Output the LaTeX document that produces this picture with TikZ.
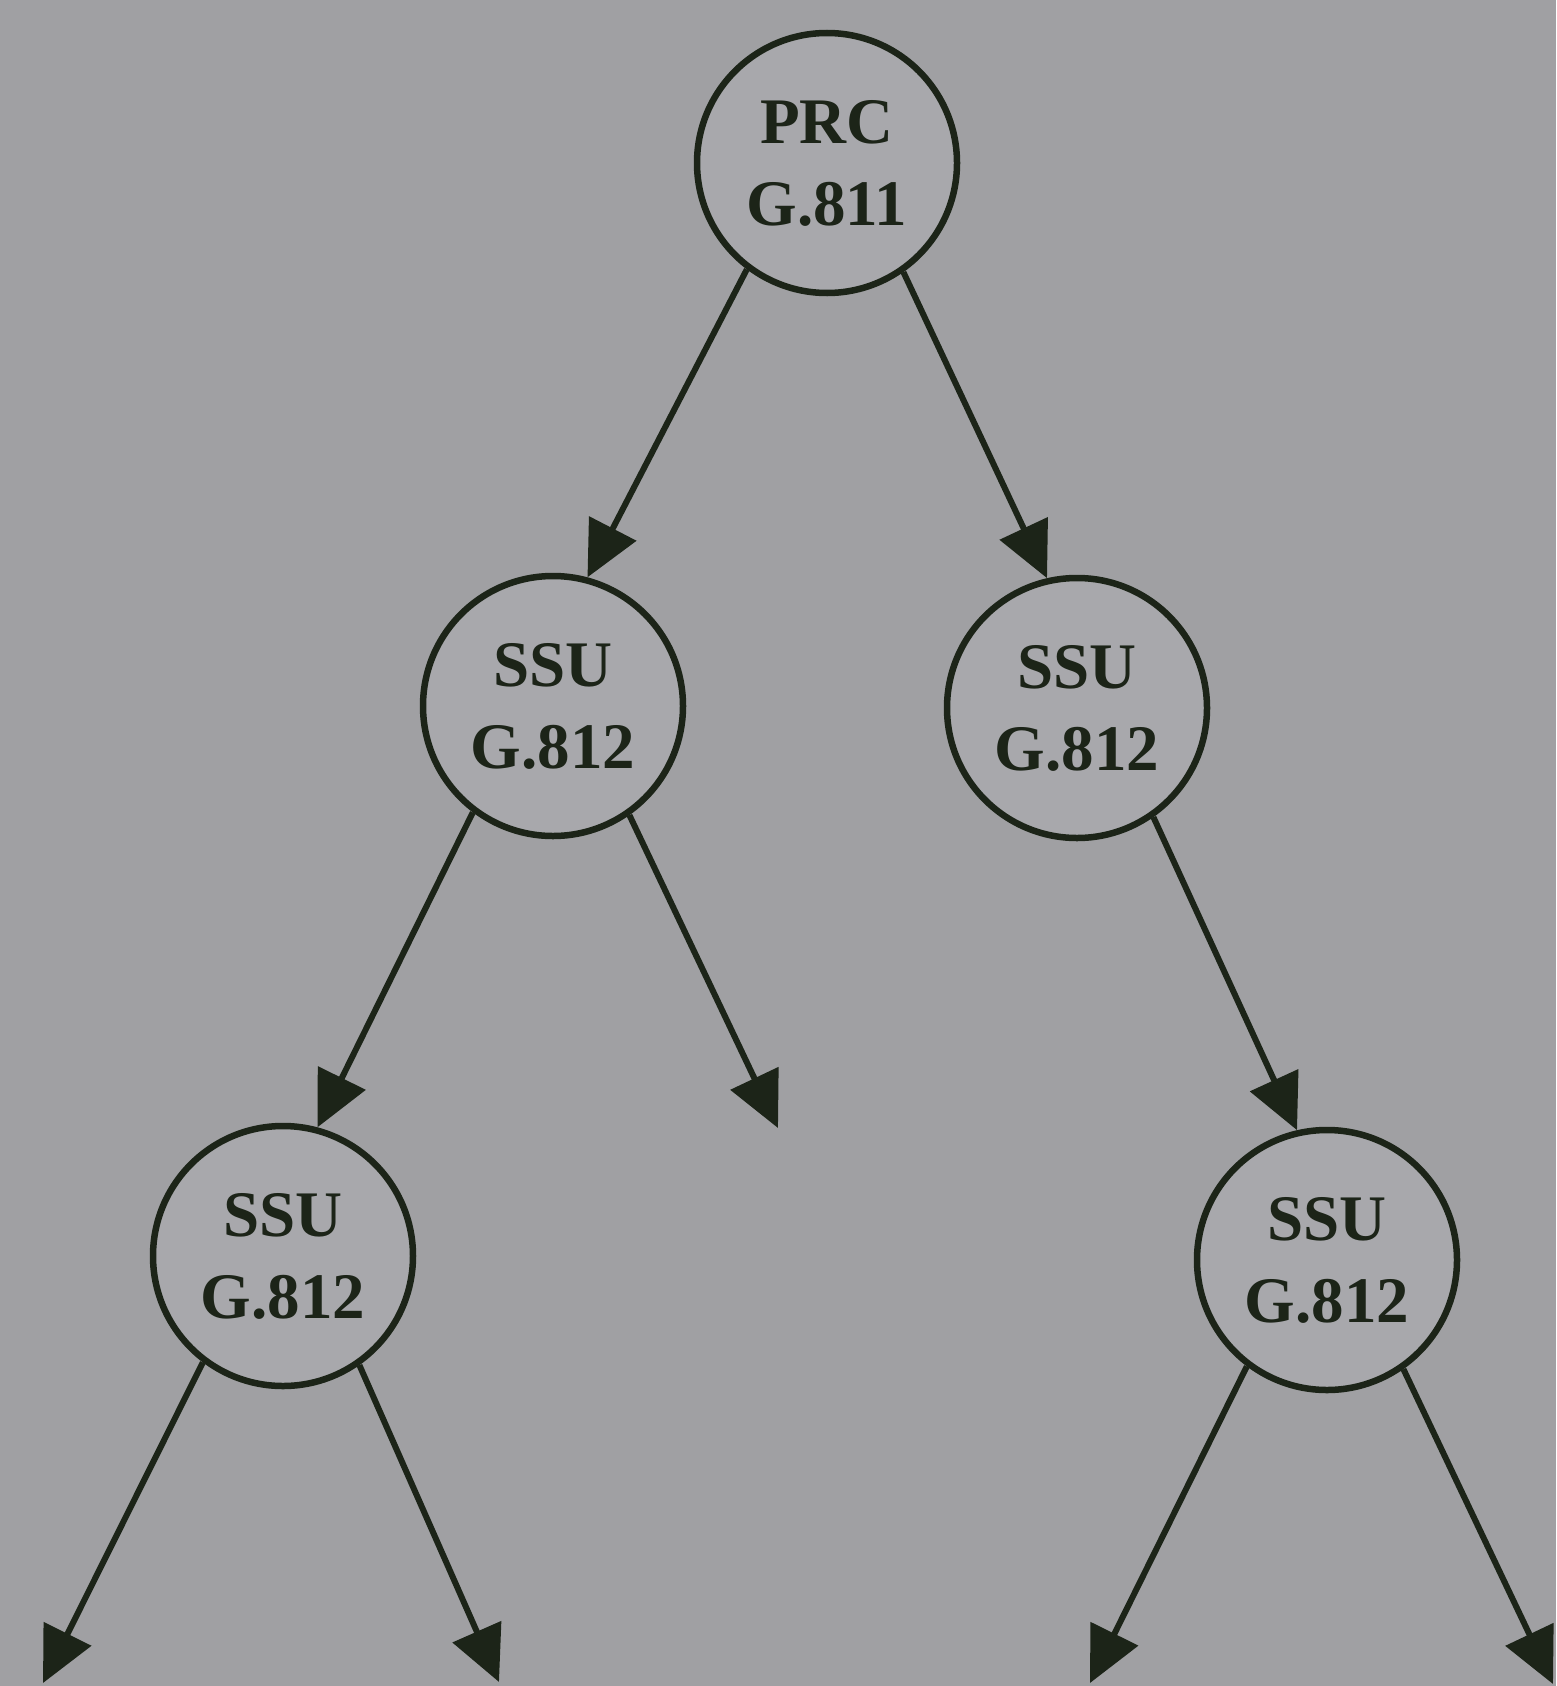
\documentclass[tikz,border=0pt]{standalone}
\usepackage{fontspec}
\setmainfont{Liberation Serif}
\usetikzlibrary{arrows.meta}
\definecolor{paper}{RGB}{160,160,163}
\definecolor{inner}{RGB}{168,168,172}
\definecolor{ink}{RGB}{28,36,24}
\tikzset{
  unit/.style={circle, draw=ink, fill=inner, line width=6.5pt, minimum size=260pt, inner sep=0pt,
    align=center, text=ink, font=\bfseries\fontsize{65}{82}\selectfont},
  link/.style={draw=ink, line width=6pt, -{Triangle[length=55pt,width=52pt]}}
}
\begin{document}
\begin{tikzpicture}[x=1pt,y=-1pt]
\useasboundingbox (0,0) rectangle (1556,1686);
\fill[paper] (0,0) rectangle (1556,1686);
\node[unit] (prc) at (827,163) {PRC\\G.811};
\node[unit] (ssuL) at (553,706) {SSU\\G.812};
\node[unit] (ssuR) at (1077,708) {SSU\\G.812};
\node[unit] (ssuBL) at (283,1256) {SSU\\G.812};
\node[unit] (ssuBR) at (1327,1260) {SSU\\G.812};
\coordinate (endLR) at (778,1128);
\coordinate (endBL1) at (43,1683);
\coordinate (endBL2) at (499,1682);
\coordinate (endBR1) at (1090,1683);
\coordinate (endBR2) at (1553,1684);
\draw[link] (prc.-127) -- (ssuL.75);
\draw[link] (prc.-55) -- (ssuR.103);
\draw[link] (ssuL.-127) -- (ssuBL.75);
\draw[link] (ssuL.-55) -- (endLR);
\draw[link] (ssuR.-55) -- (ssuBR.103);
\draw[link] (ssuBL.-127) -- (endBL1);
\draw[link] (ssuBL.-55) -- (endBL2);
\draw[link] (ssuBR.-127) -- (endBR1);
\draw[link] (ssuBR.-55) -- (endBR2);
\end{tikzpicture}
\end{document}
